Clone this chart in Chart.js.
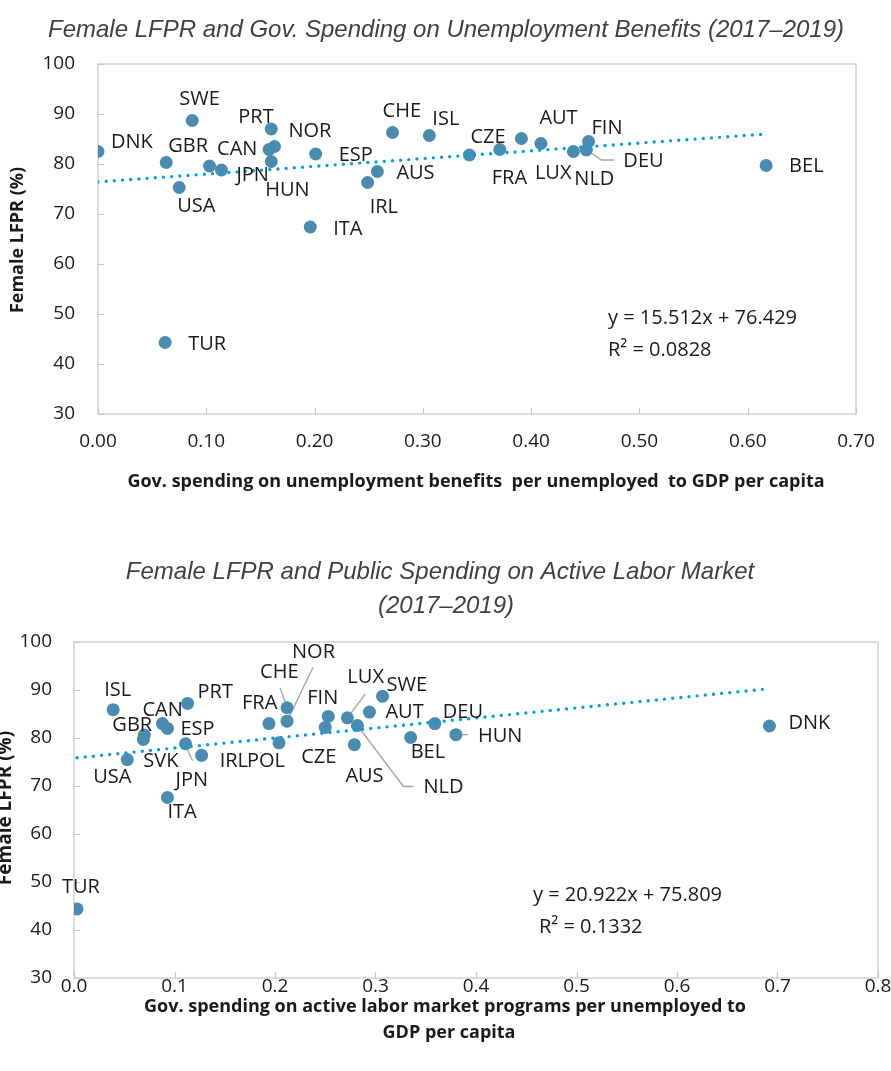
<!DOCTYPE html>
<html>
<head>
<meta charset="utf-8">
<script src="https://cdn.jsdelivr.net/npm/chart.js@4.4.1/dist/chart.umd.min.js"></script>
<style>
  body { margin: 0; background: #fff; }
  canvas { position: absolute; left: 0; }
</style>
</head>
<body>
<canvas id="benefits-chart" width="891" height="520" style="top:0"></canvas>
<canvas id="almp-chart" width="891" height="551" style="top:520px"></canvas>
<script>
// --- Data: LFPR vs unemployment benefits ---
const benefitCountries = ['DNK', 'SWE', 'GBR', 'USA', 'SVK', 'JPN', 'PRT', 'CAN', 'NOR', 'HUN', 'ESP', 'ITA', 'IRL',
    'AUS', 'CHE', 'ISL', 'CZE', 'FRA', 'AUT', 'LUX', 'NLD', 'DEU', 'FIN', 'BEL', 'TUR']
const benefitSpending = [0.000, 0.087, 0.063, 0.075, 0.103, 0.114, 0.160, 0.158, 0.163, 0.160, 0.201, 0.196, 0.249,
    0.258, 0.272, 0.306, 0.343, 0.371, 0.391, 0.409, 0.439, 0.451, 0.453, 0.617, 0.062]
const benefitLfpr = [82.5, 88.7, 80.3, 75.3, 79.6, 78.8, 87.0, 82.9, 83.5, 80.5, 82.0, 67.4, 76.3,
    78.5, 86.3, 85.7, 81.8, 82.9, 85.1, 84.1, 82.5, 82.8, 84.5, 79.7, 44.3]
const benefitTrend = [15.512, 76.429]
const benefitR2 = '0.0828'
const benefitTicksX = [0, 0.1, 0.2, 0.3, 0.4, 0.5, 0.6, 0.7]

// --- Data: LFPR vs active labour market programmes ---
const almpCountries = ['ISL', 'GBR', 'SVK', 'CAN', 'ESP', 'PRT', 'JPN', 'IRL', 'USA', 'ITA', 'POL', 'FRA', 'CHE',
    'NOR', 'FIN', 'CZE', 'LUX', 'NLD', 'AUS', 'AUT', 'SWE', 'BEL', 'DEU', 'HUN', 'DNK', 'TUR']
const almpSpending = [0.039, 0.070, 0.069, 0.088, 0.093, 0.113, 0.111, 0.127, 0.053, 0.093, 0.204, 0.194, 0.212,
    0.212, 0.253, 0.250, 0.272, 0.282, 0.279, 0.294, 0.307, 0.335, 0.359, 0.380, 0.692, 0.003]
const almpLfpr = [85.9, 80.6, 79.7, 83.0, 82.0, 87.2, 78.8, 76.4, 75.5, 67.6, 79.0, 83.0, 86.3,
    83.5, 84.5, 82.2, 84.2, 82.6, 78.6, 85.4, 88.7, 80.1, 83.0, 80.7, 82.5, 44.4]
const almpTrend = [20.922, 75.809]
const almpR2 = '0.1332'
const almpTicksX = [0, 0.1, 0.2, 0.3, 0.4, 0.5, 0.6, 0.7, 0.8]

const lfprTicks = [30, 40, 50, 60, 70, 80, 90, 100]

// label offsets from the marker centre: [dx (left edge), dy (middle)]
const benefitLabelPos = {
    DNK: [13, -9], SWE: [-13, -21], GBR: [2, -16], USA: [-2, 19], JPN: [15, 5], PRT: [-33, -12],
    CAN: [-52, 0], NOR: [14, -15], HUN: [-6, 29], ESP: [23, 1], ITA: [23, 2], IRL: [2, 25],
    AUS: [19, 2], CHE: [-10, -21], ISL: [3, -16], CZE: [1, -18], FRA: [-8, 29], AUT: [18, -20],
    LUX: [-6, 30], NLD: [1, 28], DEU: [37, 11], FIN: [3, -13], BEL: [23, 1], TUR: [23, 2]
}
const benefitLeaders = { DEU: [[2, 1], [15, 10], [28, 10]] }

const almpLabelPos = {
    ISL: [-9, -19], GBR: [-32, -10], SVK: [0, 22], CAN: [-20, -13], ESP: [13, 1], PRT: [10, -11],
    JPN: [-10, 37], IRL: [18, 6], USA: [-34, 18], ITA: [0, 15], POL: [-32, 18], FRA: [-27, -20],
    CHE: [-27, -35], NOR: [5, -69], FIN: [-21, -18], CZE: [-24, 30], LUX: [0, -41], NLD: [66, 62],
    AUS: [-9, 32], AUT: [16, 0], SWE: [4, -11], BEL: [0, 15], DEU: [8, -11], HUN: [22, 2],
    DNK: [19, -3], TUR: [-15, -22]
}
const almpLeaders = {
    JPN: [[0, 2], [7, 17]], CHE: [[-7, -20], [0, 0]], NOR: [[26, -54], [0, 0]],
    LUX: [[18, -24], [0, 0]], NLD: [[0, 0], [46, 61], [56, 61]], HUN: [[2, 0], [12, 0]]
}

const sansFont = '"Open Sans", "Noto Sans", sans-serif'

function trendPoints(xs, trend) {
    const lo = Math.min(...xs)
    const hi = Math.max(...xs)
    return [lo, hi].map(x => ({ x, y: trend[0] * x + trend[1] }))
}

function drawText(ctx, text, x, y, font, align, color, rotate) {
    ctx.save()
    ctx.font = font
    ctx.fillStyle = color || '#1a1a1a'
    ctx.textAlign = align || 'left'
    ctx.textBaseline = 'middle'
    ctx.translate(x, y)
    if (rotate) ctx.rotate(rotate)
    ctx.fillText(text, 0, 0)
    ctx.restore()
}

function overlay(cfg) {
    return {
        id: 'overlay',
        beforeDatasetsDraw(chart) {
            const ctx = chart.ctx
            const { left, right, top, bottom } = chart.chartArea
            const xs = chart.scales.x
            const ys = chart.scales.y
            ctx.save()
            ctx.strokeStyle = '#c6c6c6'
            ctx.lineWidth = 1.2
            ctx.strokeRect(left, top, right - left, bottom - top)
            ctx.beginPath()
            ys.ticks.forEach(t => {
                const y = Math.round(ys.getPixelForValue(t.value)) + 0.5
                ctx.moveTo(left, y)
                ctx.lineTo(left + 6, y)
            })
            xs.ticks.forEach(t => {
                const x = Math.round(xs.getPixelForValue(t.value)) + 0.5
                ctx.moveTo(x, bottom)
                ctx.lineTo(x, bottom - 6)
            })
            ctx.stroke()

            // leader lines
            ctx.strokeStyle = '#a6a6a6'
            ctx.lineWidth = 1.4
            Object.entries(cfg.leaders).forEach(([code, path]) => {
                const i = cfg.countries.indexOf(code)
                const px = xs.getPixelForValue(cfg.x[i])
                const py = ys.getPixelForValue(cfg.y[i])
                ctx.beginPath()
                path.forEach(([dx, dy], k) => k ? ctx.lineTo(px + dx, py + dy) : ctx.moveTo(px + dx, py + dy))
                ctx.stroke()
            })
            ctx.restore()
        },
        afterDatasetsDraw(chart) {
            const ctx = chart.ctx
            const { left, top } = chart.chartArea
            const xs = chart.scales.x
            const ys = chart.scales.y
            const labelFont = '20px ' + sansFont

            cfg.countries.forEach((code, i) => {
                const pos = cfg.labelPos[code]
                if (!pos) return
                const px = xs.getPixelForValue(cfg.x[i])
                const py = ys.getPixelForValue(cfg.y[i])
                drawText(ctx, code, px + pos[0], py + pos[1], labelFont)
            })

            // trendline equation
            const eq = `y = ${cfg.trend[0].toFixed(3)}x + ${cfg.trend[1].toFixed(3)}`
            drawText(ctx, eq, left + cfg.eqPos[0], top + cfg.eqPos[1], labelFont)
            drawText(ctx, 'R² = ' + cfg.r2, left + cfg.r2Pos[0], top + cfg.r2Pos[1], labelFont)

            // chart title
            cfg.title.forEach(line => {
                drawText(ctx, line[0], line[1], line[2], 'italic 24px "Liberation Sans", Arial, sans-serif', 'center', '#404040')
            })

            // axis titles
            const axisFont = 'bold ' + cfg.axisFontSize + 'px ' + sansFont
            cfg.xTitle.forEach(line => drawText(ctx, line[0], line[1], line[2], axisFont, 'center'))
            drawText(ctx, 'Female LFPR (%)', cfg.yTitle[0], cfg.yTitle[1], 'bold ' + cfg.yTitleSize + 'px ' + sansFont,
                'center', '#1a1a1a', -Math.PI / 2)
        }
    }
}

function makeChart(canvas, cfg) {
    const points = cfg.x.map((v, i) => ({ x: v, y: cfg.y[i] }))
    const tickFont = { family: sansFont, size: 19 }
    return new Chart(canvas, {
        type: 'scatter',
        data: {
            datasets: [{
                type: 'line',
                label: 'Linear trend',
                data: trendPoints(cfg.x, cfg.trend),
                borderColor: '#00a0e3',
                borderWidth: 3.4,
                borderDash: [0, 8.2],
                borderCapStyle: 'round',
                pointRadius: 0,
                fill: false,
                order: 0
            }, {
                label: 'Countries',
                data: points,
                backgroundColor: '#4b8bb0',
                borderWidth: 0,
                pointRadius: 6.5,
                pointHoverRadius: 6.5,
                order: 1
            }]
        },
        options: {
            responsive: false,
            animation: false,
            layout: { padding: cfg.padding },
            plugins: { legend: { display: false }, tooltip: { enabled: false } },
            scales: {
                x: {
                    type: 'linear',
                    min: cfg.xTicks[0],
                    max: cfg.xTicks[cfg.xTicks.length - 1],
                    afterBuildTicks: s => { s.ticks = cfg.xTicks.map(v => ({ value: v })) },
                    afterFit: s => {
                        s.height = cfg.xAxisHeight
                        s.paddingLeft = 0
                        s.paddingRight = 0
                    },
                    grid: { display: false, drawTicks: false },
                    border: { display: false },
                    ticks: {
                        callback: v => v.toFixed(cfg.xDecimals),
                        font: tickFont,
                        color: '#1a1a1a',
                        padding: cfg.xTickPad,
                        maxRotation: 0,
                        autoSkip: false
                    }
                },
                y: {
                    min: lfprTicks[0],
                    max: lfprTicks[lfprTicks.length - 1],
                    afterBuildTicks: s => { s.ticks = lfprTicks.map(v => ({ value: v })) },
                    afterFit: s => { s.width = cfg.yAxisWidth },
                    grid: { display: false, drawTicks: false },
                    border: { display: false },
                    ticks: { font: tickFont, color: '#1a1a1a', padding: cfg.yTickPad }
                }
            }
        },
        plugins: [overlay(cfg)]
    })
}

makeChart(document.getElementById('benefits-chart'), {
    countries: benefitCountries,
    x: benefitSpending,
    y: benefitLfpr,
    trend: benefitTrend,
    r2: benefitR2,
    xTicks: benefitTicksX,
    xDecimals: 2,
    labelPos: benefitLabelPos,
    leaders: benefitLeaders,
    padding: { left: 0, top: 64, right: 35, bottom: 0 },
    xAxisHeight: 106,
    yAxisWidth: 98,
    xTickPad: 16,
    yTickPad: 23,
    eqPos: [510, 254],
    r2Pos: [510, 286],
    title: [['Female LFPR and Gov. Spending on Unemployment Benefits (2017\u20132019)', 446, 30]],
    xTitle: [['Gov. spending on unemployment benefits  per unemployed  to GDP per capita', 476, 482]],
    axisFontSize: 18,
    yTitle: [18, 240],
    yTitleSize: 18
})

makeChart(document.getElementById('almp-chart'), {
    countries: almpCountries,
    x: almpSpending,
    y: almpLfpr,
    trend: almpTrend,
    r2: almpR2,
    xTicks: almpTicksX,
    xDecimals: 1,
    labelPos: almpLabelPos,
    leaders: almpLeaders,
    padding: { left: 0, top: 122, right: 13, bottom: 0 },
    xAxisHeight: 93,
    yAxisWidth: 74,
    xTickPad: -3,
    yTickPad: 22,
    eqPos: [459, 253],
    r2Pos: [465, 285],
    title: [['Female LFPR and Public Spending on Active Labor Market', 440, 52], ['(2017\u20132019)', 446, 86]],
    xTitle: [['Gov. spending on active labor market programs per unemployed to', 445, 487], ['GDP per capita', 449, 513]],
    axisFontSize: 18,
    yTitle: [6, 288],
    yTitleSize: 19
})
</script>
</body>
</html>
